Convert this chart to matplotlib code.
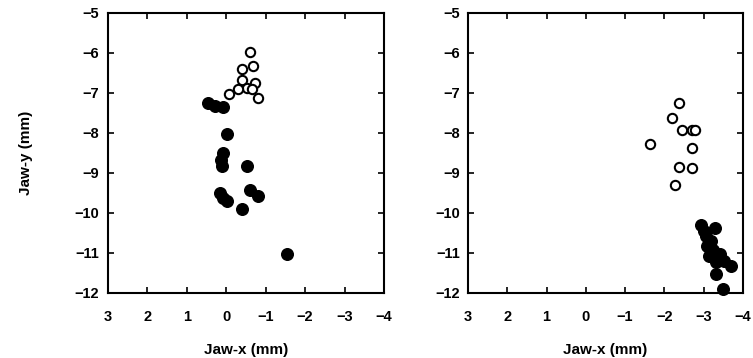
import numpy as np
import matplotlib.pyplot as plt

plt.rcParams['font.family'] = ['Liberation Sans', 'DejaVu Sans']

# left panel
left_open_x = [-0.61, -0.69, -0.40, -0.40, -0.74, -0.53, -0.31, -0.65, -0.08, -0.82]
left_open_y = [-5.98, -6.32, -6.40, -6.67, -6.75, -6.88, -6.90, -6.90, -7.03, -7.13]
left_fill_x = [0.45, 0.28, 0.07, -0.02, 0.07, 0.11, 0.13, -0.53, 0.15, 0.07,
               -0.02, -0.61, -0.82, -0.40, -1.53]
left_fill_y = [-7.25, -7.32, -7.35, -8.02, -8.50, -8.83, -8.68, -8.83, -9.50, -9.62,
               -9.70, -9.42, -9.58, -9.90, -11.04]

# right panel
right_open_x = [-2.37, -2.20, -2.44, -2.70, -2.78, -1.64, -2.70, -2.37, -2.70, -2.28]
right_open_y = [-7.26, -7.64, -7.93, -7.92, -7.92, -8.29, -8.39, -8.86, -8.87, -9.30]
right_fill_x = [-2.93, -3.28, -3.06, -3.10, -3.23, -3.15, -3.41, -3.53, -3.71, -3.32,
                -3.32, -3.49, -3.20, -3.00]
right_fill_y = [-10.31, -10.37, -10.58, -10.83, -10.92, -11.08, -11.03, -11.21, -11.34,
                -11.24, -11.52, -11.91, -10.70, -10.45]

xticks = [3, 2, 1, 0, -1, -2, -3, -4]
yticks = [-5, -6, -7, -8, -9, -10, -11, -12]

fig = plt.figure(figsize=(7.53, 3.58), dpi=100)
ax1 = fig.add_axes([0.143, 0.182, 0.367, 0.782])
ax2 = fig.add_axes([0.6215, 0.182, 0.365, 0.782])

panels = [
    (ax1, left_open_x, left_open_y, left_fill_x, left_fill_y),
    (ax2, right_open_x, right_open_y, right_fill_x, right_fill_y),
]

for ax, ox, oy, fx, fy in panels:
    ax.scatter(fx, fy, s=70, c='black', edgecolors='black', zorder=3, clip_on=False)
    ax.scatter(ox, oy, s=45, facecolors='white', edgecolors='black', linewidths=1.5,
               zorder=4, clip_on=False)
    ax.set_xlim(3, -4)
    ax.set_ylim(-12, -5)
    ax.set_xticks(xticks)
    ax.set_yticks(yticks)
    ax.set_xticklabels(['\u2212' + str(-t) if t < 0 else str(t) for t in xticks],
                       fontsize=10.5, fontweight='bold')
    ax.set_yticklabels(['\u2212' + str(-t) for t in yticks], fontsize=10.5,
                       fontweight='bold')
    ax.tick_params(direction='in', length=4, width=1.2, top=True, right=True)
    ax.tick_params(axis='x', pad=12)
    ax.tick_params(axis='y', pad=6)
    for sp in ax.spines.values():
        sp.set_linewidth(1.5)
    ax.set_xlabel('Jaw-x (mm)', fontsize=11, fontweight='bold', labelpad=14)

ax1.set_ylabel('Jaw-y (mm)', fontsize=11, fontweight='bold', labelpad=30)

fig.savefig('out.png', dpi=100)
